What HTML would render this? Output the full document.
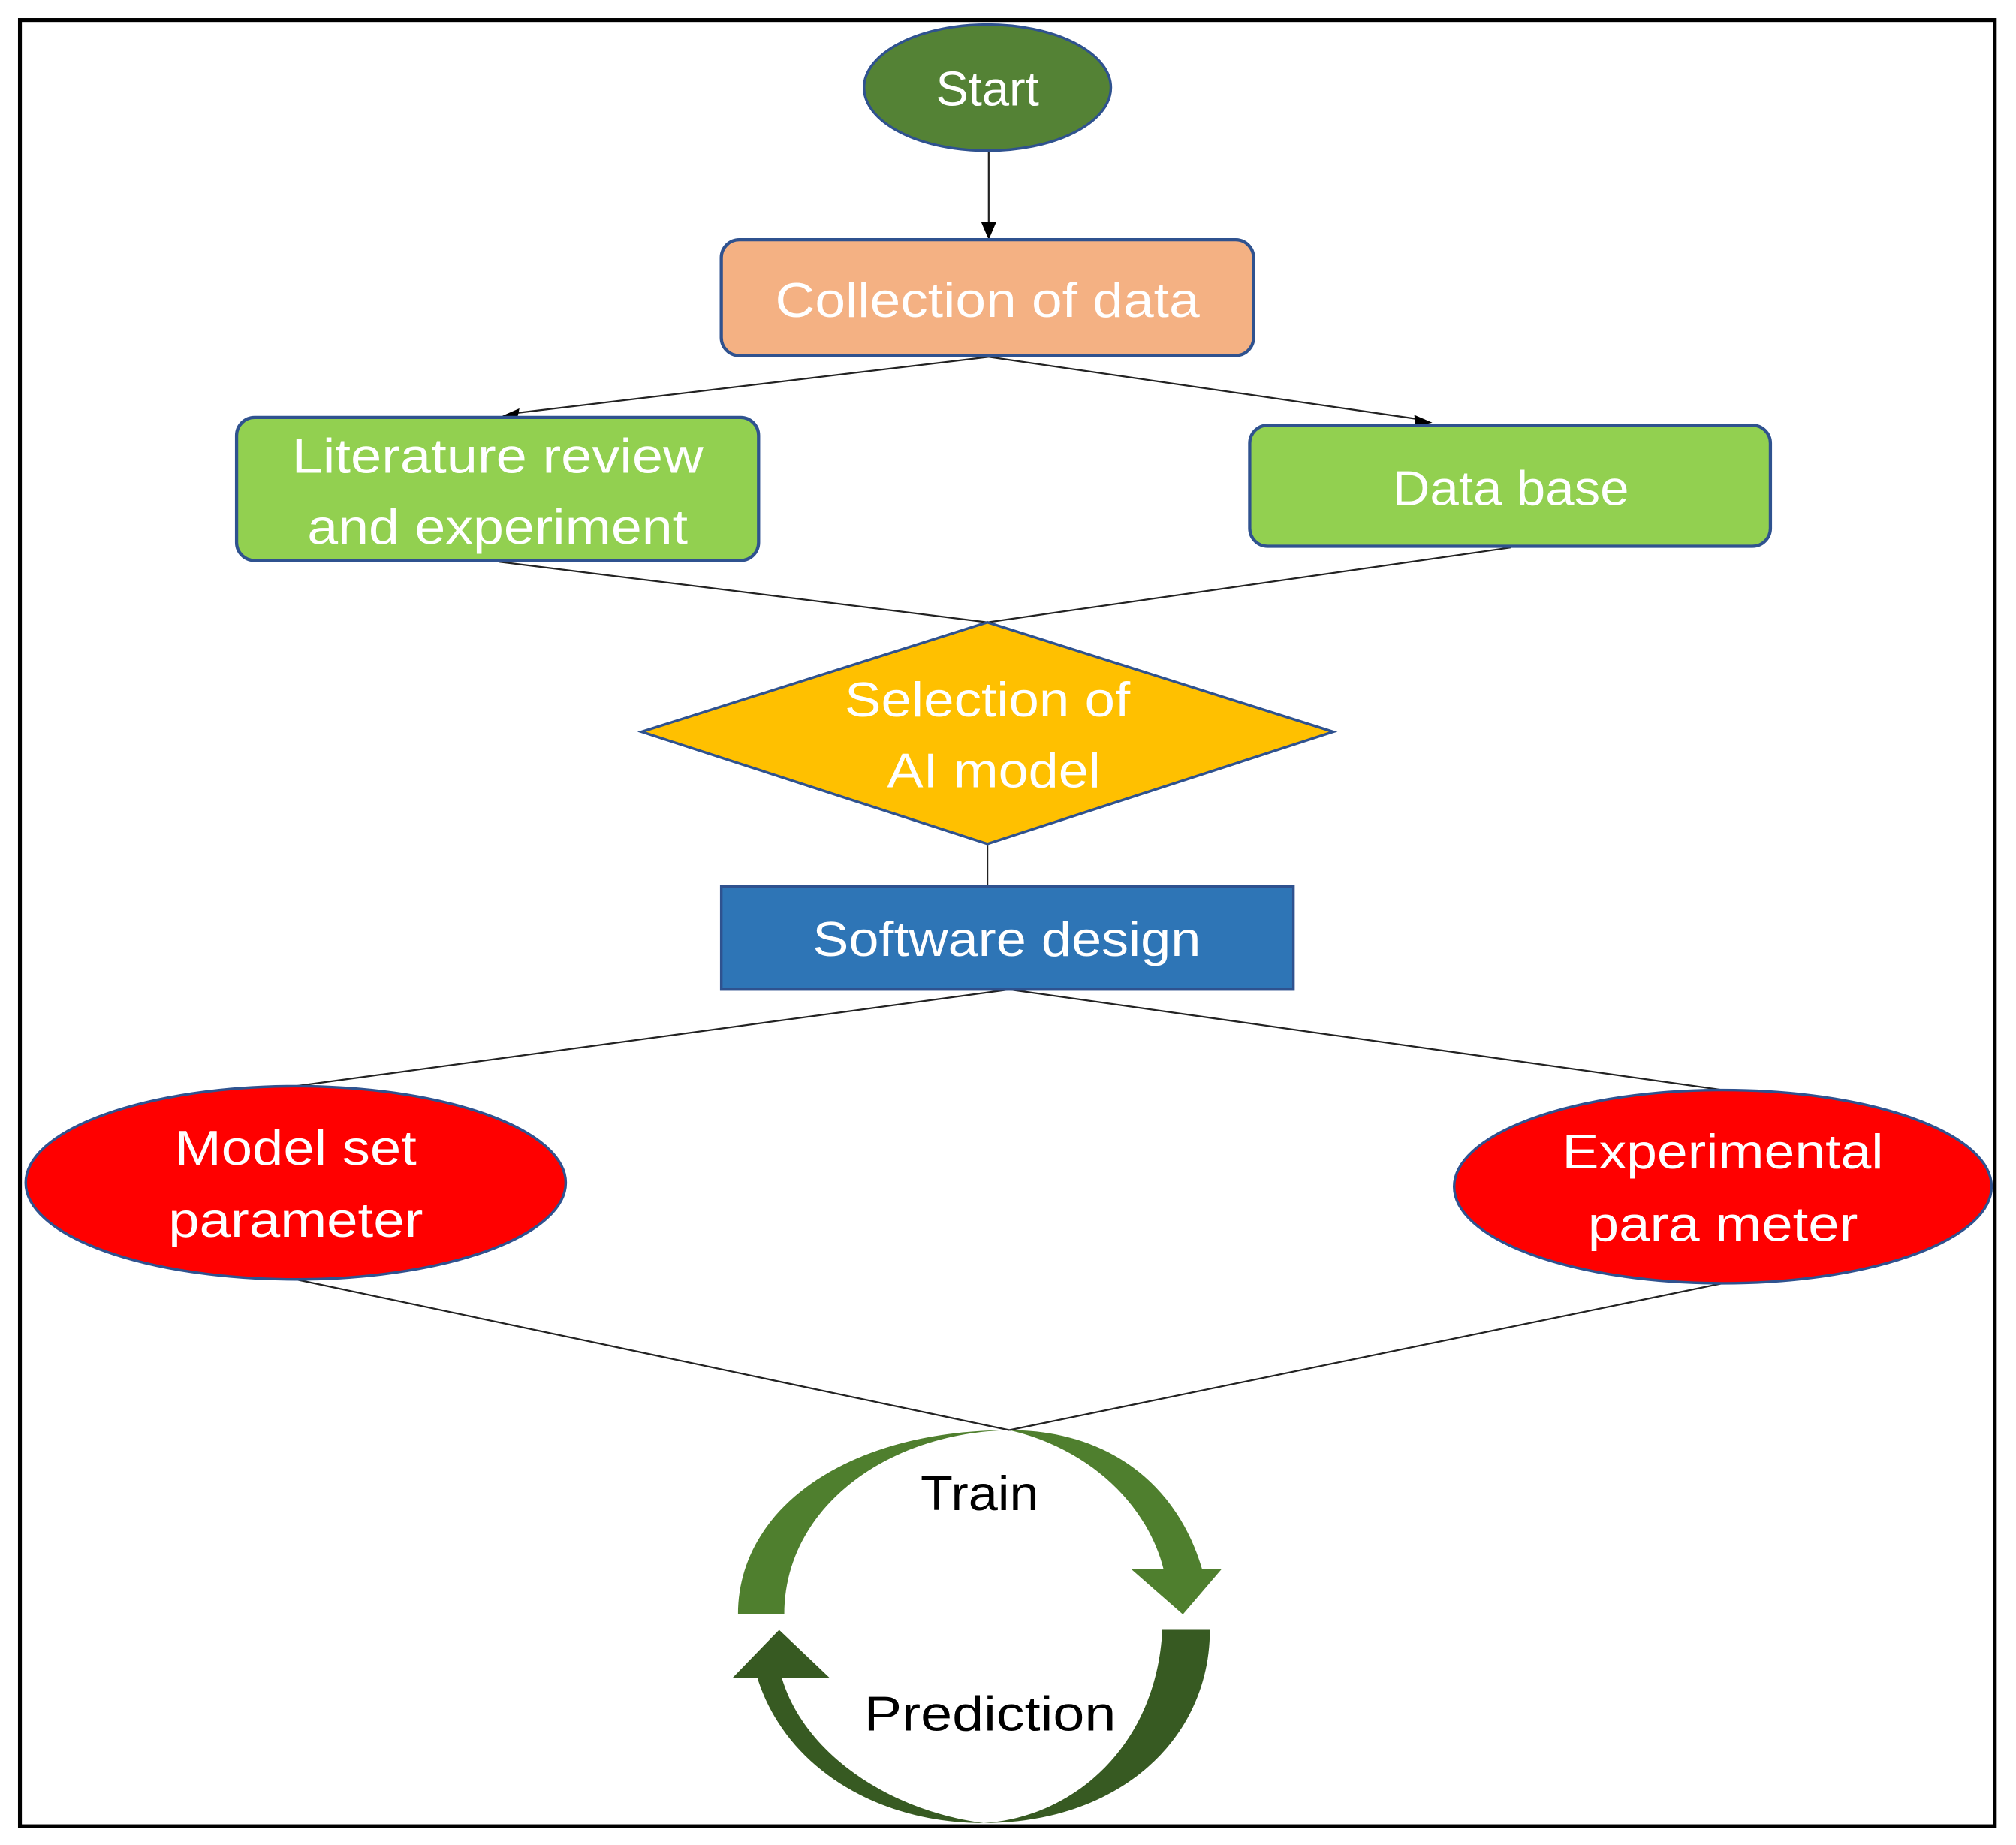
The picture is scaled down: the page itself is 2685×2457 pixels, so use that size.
<!DOCTYPE html>
<html><head><meta charset="utf-8"><style>html,body{margin:0;padding:0;background:#fff}svg{display:block}</style></head>
<body>
<svg width="2685" height="2457" viewBox="0 0 1568 1432" preserveAspectRatio="none" xmlns="http://www.w3.org/2000/svg" font-family="Liberation Sans, sans-serif">
<rect x="0" y="0" width="1568" height="1432" fill="#fff"/>
<rect x="15.5" y="15.5" width="1536" height="1402" fill="none" stroke="#000" stroke-width="3"/>
<g stroke="#222" stroke-width="1.3" fill="none">
<line x1="769" y1="118" x2="769" y2="176"/>
<line x1="769" y1="277" x2="398" y2="321"/>
<line x1="769" y1="277" x2="1108" y2="326"/>
<line x1="388" y1="436" x2="768" y2="483"/>
<line x1="1175" y1="425" x2="768" y2="483"/>
<line x1="768" y1="655" x2="768" y2="688"/>
<line x1="785" y1="768" x2="230" y2="843"/>
<line x1="785" y1="768" x2="1340" y2="846"/>
<line x1="230" y1="993" x2="785" y2="1110"/>
<line x1="1340" y1="996" x2="785" y2="1110"/>
</g>
<polygon points="763,172 775,172 769,186" fill="#000"/>
<polygon points="390,323 404,317 402,326" fill="#000"/>
<polygon points="1114,328 1100,322 1101,331" fill="#000"/>
<ellipse cx="768" cy="68" rx="96" ry="49" fill="#548235" stroke="#2f528f" stroke-width="2"/>
<text x="768" y="82" font-size="38" fill="#fff" text-anchor="middle">Start</text>
<rect x="561" y="186" width="414" height="90" rx="14" fill="#f4b183" stroke="#2f528f" stroke-width="2.5"/>
<text x="768" y="246" font-size="38" fill="#fff" text-anchor="middle" textLength="330" lengthAdjust="spacingAndGlyphs">Collection of data</text>
<rect x="184" y="324" width="406" height="111" rx="14" fill="#92d050" stroke="#2f528f" stroke-width="2.5"/>
<text x="387" y="367" font-size="38" fill="#fff" text-anchor="middle" textLength="320" lengthAdjust="spacingAndGlyphs">Literature review</text>
<text x="387" y="422" font-size="38" fill="#fff" text-anchor="middle" textLength="296" lengthAdjust="spacingAndGlyphs">and experiment</text>
<rect x="972" y="330" width="405" height="94" rx="14" fill="#92d050" stroke="#2f528f" stroke-width="2.5"/>
<text x="1175" y="392" font-size="38" fill="#fff" text-anchor="middle" textLength="184" lengthAdjust="spacingAndGlyphs">Data base</text>
<polygon points="768,483 1037,568 768,655 499,568" fill="#ffc000" stroke="#2f528f" stroke-width="2"/>
<text x="768" y="556" font-size="38" fill="#fff" text-anchor="middle" textLength="222" lengthAdjust="spacingAndGlyphs">Selection of</text>
<text x="773" y="611" font-size="38" fill="#fff" text-anchor="middle" textLength="166" lengthAdjust="spacingAndGlyphs">AI model</text>
<rect x="561" y="688" width="445" height="80" fill="#2e75b6" stroke="#2f528f" stroke-width="2"/>
<text x="783" y="742" font-size="38" fill="#fff" text-anchor="middle" textLength="302" lengthAdjust="spacingAndGlyphs">Software design</text>
<ellipse cx="230" cy="918" rx="210" ry="75" fill="#ff0000" stroke="#2f528f" stroke-width="2"/>
<text x="230" y="904" font-size="38" fill="#fff" text-anchor="middle" textLength="188" lengthAdjust="spacingAndGlyphs">Model set</text>
<text x="230" y="960" font-size="38" fill="#fff" text-anchor="middle" textLength="198" lengthAdjust="spacingAndGlyphs">parameter</text>
<ellipse cx="1340" cy="921" rx="209" ry="75" fill="#ff0000" stroke="#2f528f" stroke-width="2"/>
<text x="1340" y="907" font-size="38" fill="#fff" text-anchor="middle" textLength="250" lengthAdjust="spacingAndGlyphs">Experimental</text>
<text x="1340" y="963" font-size="38" fill="#fff" text-anchor="middle" textLength="210" lengthAdjust="spacingAndGlyphs">para meter</text>
<path d="M574,1253 L610,1253 C610,1170 690,1112 785,1110 C850,1125 893,1170 905,1218 L880,1218 L920,1253 L950,1218 L935,1218 C915,1150 860,1110 785,1110 C660,1110 574,1170 574,1253 Z" fill="#4f7f2e"/>
<path d="M941,1265 L904,1265 C900,1350 840,1410 765,1415 C690,1405 625,1360 608,1302 L645,1302 L606,1265 L570,1302 L589,1302 C610,1370 680,1415 765,1415 C870,1415 941,1350 941,1265 Z" fill="#375a22"/>
<text x="762" y="1172" font-size="38" fill="#000" text-anchor="middle" textLength="92" lengthAdjust="spacingAndGlyphs">Train</text>
<text x="770" y="1343" font-size="38" fill="#000" text-anchor="middle" textLength="196" lengthAdjust="spacingAndGlyphs">Prediction</text>
</svg>
</body></html>
